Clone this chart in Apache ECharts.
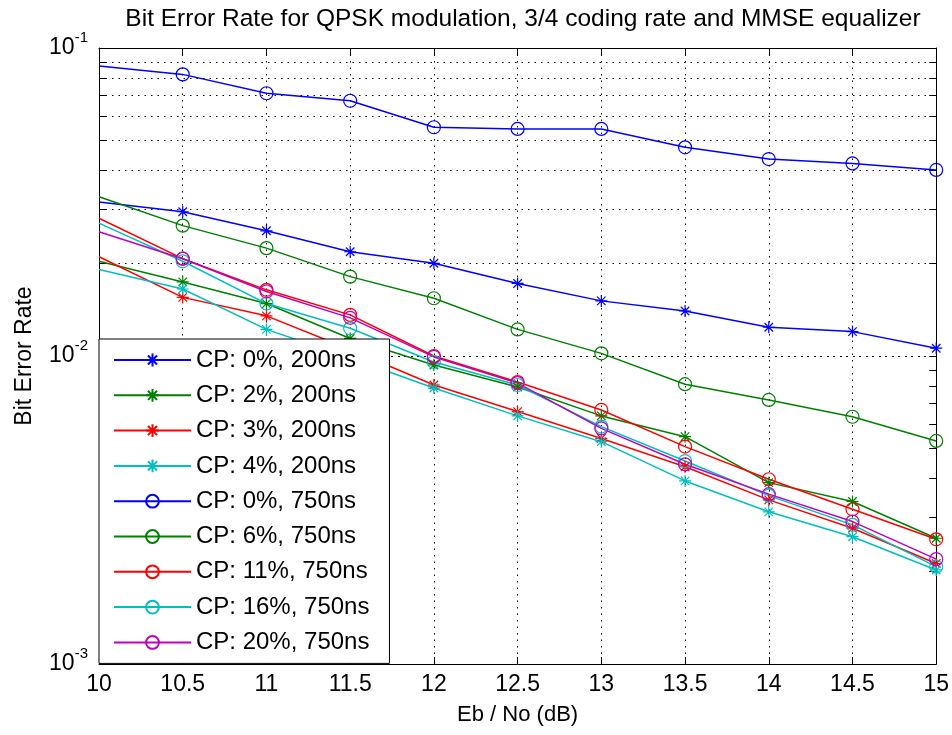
<!DOCTYPE html>
<html>
<head>
<meta charset="utf-8">
<script src="https://cdn.jsdelivr.net/npm/echarts@6/dist/echarts.min.js"></script>
<style>
html, body { margin: 0; padding: 0; background: #fff; }
#main { width: 952px; height: 735px; }
</style>
</head>
<body>
<div id="main"></div>
<script>
// Eb/No axis (dB)
var ebNo = [10, 10.5, 11, 11.5, 12, 12.5, 13, 13.5, 14, 14.5, 15];

// bit error rate curves
var berCp0_200  = [0.0316, 0.0294, 0.0255, 0.0218, 0.0200, 0.0172, 0.0151, 0.0140, 0.0124, 0.0120, 0.0106];
var berCp2_200  = [0.0203, 0.0174, 0.0148, 0.0114, 0.00935, 0.00793, 0.00639, 0.00547, 0.00388, 0.00337, 0.00256];
var berCp3_200  = [0.0210, 0.0155, 0.0135, 0.0105, 0.00805, 0.0066, 0.0054, 0.00437, 0.00341, 0.00276, 0.00212];
var berCp4_200  = [0.0191, 0.0165, 0.0122, 0.00985, 0.00787, 0.00639, 0.00527, 0.00393, 0.00312, 0.00259, 0.00202];
var berCp0_750  = [0.0874, 0.0821, 0.0713, 0.0674, 0.0553, 0.0546, 0.0546, 0.0476, 0.0436, 0.0422, 0.0402];
var berCp6_750  = [0.0329, 0.0265, 0.0224, 0.0181, 0.0154, 0.0122, 0.0102, 0.0081, 0.0072, 0.00635, 0.0053];
var berCp11_750 = [0.0280, 0.0207, 0.0164, 0.0136, 0.0100, 0.00823, 0.00668, 0.00508, 0.00398, 0.00318, 0.00254];
var berCp16_750 = [0.0270, 0.0203, 0.0148, 0.0123, 0.00956, 0.00805, 0.0059, 0.00456, 0.00352, 0.00283, 0.00207];
var berCp20_750 = [0.0253, 0.0207, 0.0162, 0.0133, 0.00993, 0.00817, 0.00582, 0.00445, 0.00356, 0.0029, 0.00219];

var seriesNames = ['CP: 0%, 200ns', 'CP: 2%, 200ns', 'CP: 3%, 200ns', 'CP: 4%, 200ns',
    'CP: 0%, 750ns', 'CP: 6%, 750ns', 'CP: 11%, 750ns', 'CP: 16%, 750ns', 'CP: 20%, 750ns'];

var FONT = "'Liberation Sans', Arial, sans-serif";
var STAR = 'path://M12,0L12,24M0,12L24,12M3.5,3.5L20.5,20.5M3.5,20.5L20.5,3.5';

// log minor grid (2..9 in each decade)
var minorVals = [];
[0.001, 0.01].forEach(function (d) {
    for (var k = 2; k <= 9; k++) minorVals.push(+(k * d).toPrecision(3));
});

function makeSeries(name, vals, color, marker) {
    var isStar = marker === 'star';
    return {
        name: name,
        type: 'line',
        data: ebNo.map(function (x, i) {
            var d = {value: [x, vals[i]]};
            if (i === 0) d.symbol = 'none'; // first point sits on the axis edge, no marker
            return d;
        }),
        symbol: isStar ? STAR : 'circle',
        symbolSize: isStar ? 12 : 13,
        lineStyle: {color: color, width: 1.5},
        itemStyle: {color: isStar ? color : 'none', borderColor: color, borderWidth: 1.2},
        emphasis: {disabled: true},
        animation: false
    };
}

var series = [
    makeSeries(seriesNames[0], berCp0_200, '#0000ff', 'star'),
    makeSeries(seriesNames[1], berCp2_200, '#008000', 'star'),
    makeSeries(seriesNames[2], berCp3_200, '#ff0000', 'star'),
    makeSeries(seriesNames[3], berCp4_200, '#00bfbf', 'star'),
    makeSeries(seriesNames[4], berCp0_750, '#0000ff', 'circle'),
    makeSeries(seriesNames[5], berCp6_750, '#008000', 'circle'),
    makeSeries(seriesNames[6], berCp11_750, '#ff0000', 'circle'),
    makeSeries(seriesNames[7], berCp16_750, '#00bfbf', 'circle'),
    makeSeries(seriesNames[8], berCp20_750, '#bf00bf', 'circle')
];

// minor grid lines + minor ticks on both sides
var gridMarks = [];
minorVals.forEach(function (v) {
    gridMarks.push({yAxis: v, lineStyle: {color: '#000', width: 1, type: [1.5, 5]}});
    gridMarks.push([{coord: [10, v], lineStyle: {color: '#000', width: 1, type: 'solid'}}, {coord: [10.042, v]}]);
    gridMarks.push([{coord: [14.958, v], lineStyle: {color: '#000', width: 1, type: 'solid'}}, {coord: [15, v]}]);
});
series[0].markLine = {
    silent: true,
    z: 1,
    symbol: 'none',
    label: {show: false},
    animation: false,
    data: gridMarks
};

var chart = echarts.init(document.getElementById('main'));
var option = {
    backgroundColor: '#fff',
    animation: false,
    title: {
        text: 'Bit Error Rate for QPSK modulation, 3/4 coding rate and MMSE equalizer',
        left: 518,
        top: 2,
        textAlign: 'center',
        textStyle: {fontSize: 24.5, fontWeight: 'normal', color: '#000', fontFamily: FONT}
    },
    grid: {left: 99, right: 14, top: 48, bottom: 71},
    legend: {
        data: seriesNames,
        orient: 'vertical',
        left: 99,
        top: 339,
        itemWidth: 77,
        itemHeight: 16,
        itemGap: 11.3,
        padding: [9, 20, 9, 14],
        backgroundColor: '#fff',
        borderColor: '#000',
        borderWidth: 1,
        borderRadius: 0,
        selectedMode: false,
        textStyle: {fontSize: 24, lineHeight: 24, color: '#000', fontFamily: FONT}
    },
    xAxis: [{
        type: 'value',
        min: 10,
        max: 15,
        interval: 0.5,
        position: 'bottom',
        name: 'Eb / No (dB)',
        nameLocation: 'middle',
        nameGap: 40,
        nameTextStyle: {fontSize: 22, color: '#000', fontFamily: FONT},
        axisLine: {lineStyle: {color: '#000', width: 1}},
        axisTick: {inside: true, length: 7, lineStyle: {color: '#000'}},
        axisLabel: {fontSize: 23, color: '#000', margin: 9, fontFamily: FONT},
        splitLine: {show: true, lineStyle: {color: '#000', width: 1, type: [1.5, 5]}}
    }, {
        type: 'value',
        min: 10,
        max: 15,
        interval: 0.5,
        position: 'top',
        axisLine: {lineStyle: {color: '#000', width: 1}},
        axisTick: {inside: true, length: 7, lineStyle: {color: '#000'}},
        axisLabel: {show: false},
        splitLine: {show: false}
    }],
    yAxis: [{
        type: 'log',
        logBase: 10,
        min: 0.001,
        max: 0.1,
        name: 'Bit Error Rate',
        nameLocation: 'middle',
        nameGap: 63,
        nameRotate: 90,
        nameTextStyle: {fontSize: 23, color: '#000', fontFamily: FONT},
        axisLine: {lineStyle: {color: '#000', width: 1}},
        axisTick: {inside: true, length: 7, lineStyle: {color: '#000'}},
        axisLabel: {
            margin: 11,
            formatter: function (v) {
                var e = Math.round(Math.log(v) / Math.LN10);
                return '{b|10}{s|' + e + '}';
            },
            rich: {
                b: {fontSize: 23, lineHeight: 36, color: '#000', fontFamily: FONT},
                s: {fontSize: 15, lineHeight: 15, verticalAlign: 'top', color: '#000', fontFamily: FONT}
            }
        },
        splitLine: {show: true, lineStyle: {color: '#000', width: 1, type: [1.5, 5]}}
    }, {
        type: 'log',
        logBase: 10,
        min: 0.001,
        max: 0.1,
        position: 'right',
        axisLine: {lineStyle: {color: '#000', width: 1}},
        axisTick: {inside: true, length: 7, lineStyle: {color: '#000'}},
        axisLabel: {show: false},
        splitLine: {show: false}
    }],
    series: series
};
chart.setOption(option);
</script>
</body>
</html>
